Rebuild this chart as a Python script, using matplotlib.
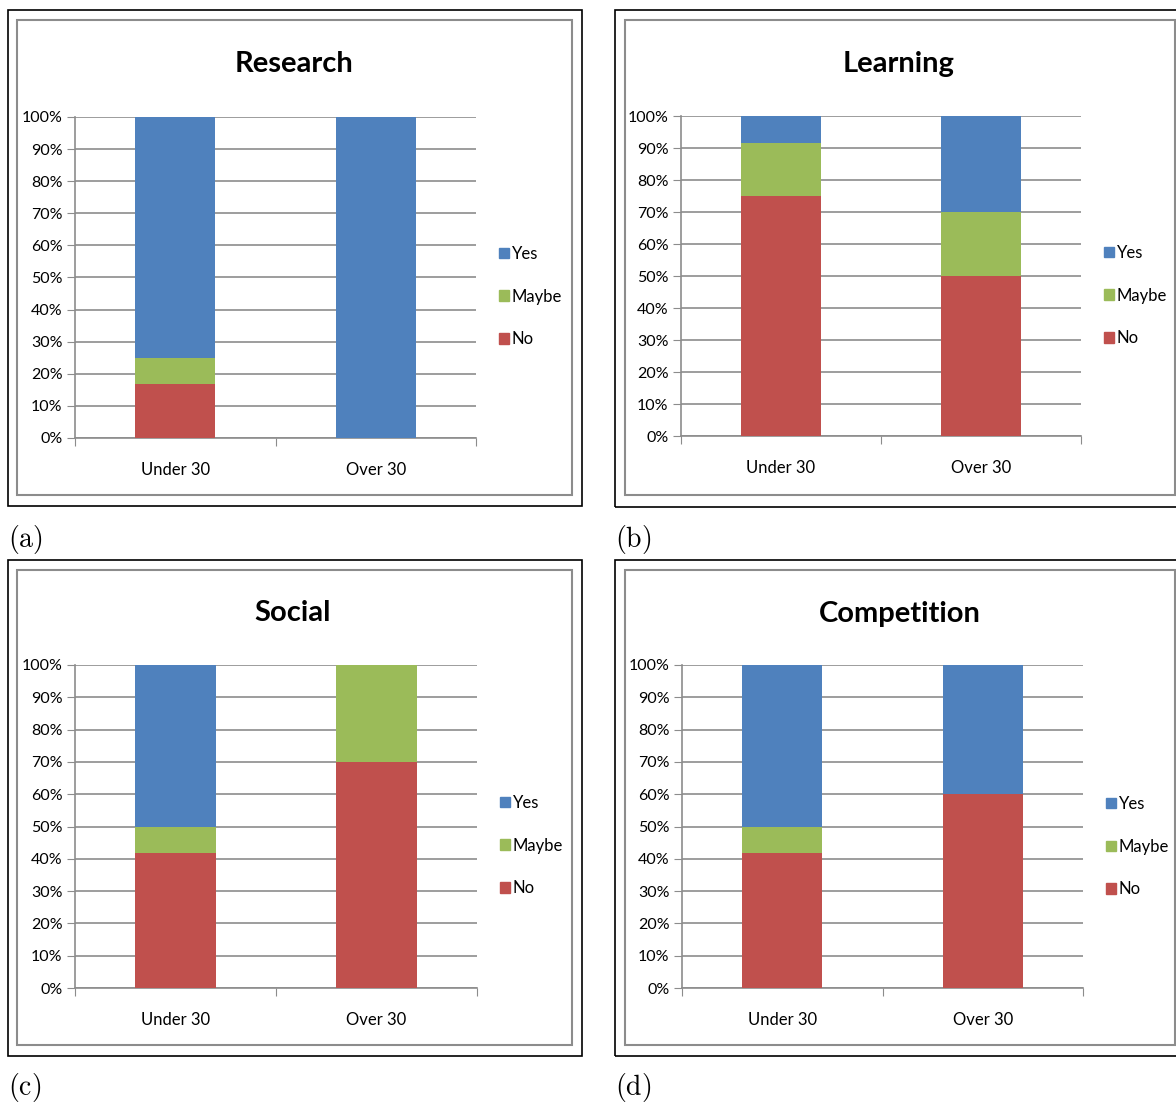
import matplotlib
matplotlib.use("Agg")
import matplotlib.pyplot as plt
from matplotlib.patches import Rectangle, Patch

plt.rcParams['font.family'] = ['Lato', 'DejaVu Sans']
plt.rcParams['mathtext.fontset'] = 'cm'

W, H = 1176, 1103

groups = ['Under 30', 'Over 30']
answers = ['Yes', 'Maybe', 'No']
colors = {'Yes': '#4F81BD', 'Maybe': '#9BBB59', 'No': '#C0504D'}
yticks = [0, 10, 20, 30, 40, 50, 60, 70, 80, 90, 100]

# percentages per answer, one value per age group
research_no = [16.7, 0]
research_maybe = [8.3, 0]
research_yes = [75.0, 100]

learning_no = [75.0, 50]
learning_maybe = [16.7, 20]
learning_yes = [8.3, 30]

social_no = [41.7, 70]
social_maybe = [8.3, 30]
social_yes = [50.0, 0]

competition_no = [41.7, 60]
competition_maybe = [8.3, 0]
competition_yes = [50.0, 40]

panels = [
    ('Research', '(a)', research_no, research_maybe, research_yes),
    ('Learning', '(b)', learning_no, learning_maybe, learning_yes),
    ('Social', '(c)', social_no, social_maybe, social_yes),
    ('Competition', '(d)', competition_no, competition_maybe, competition_yes),
]

# pixel layout: outer box, inner box, plot area, title centre, legend top-left, caption
layout = [
    dict(outer=(8, 10, 582, 506), inner=(17, 20, 572, 495), plot=(75, 117, 476, 438),
         title=(294, 64), legend=(499, 252), caption=(8, 540)),
    dict(outer=(615, 10, 1190, 507), inner=(625, 20, 1175, 495), plot=(681, 116, 1081, 436),
         title=(899, 64), legend=(1104, 251), caption=(615, 540)),
    dict(outer=(8, 560, 582, 1056), inner=(17, 570, 572, 1045), plot=(75, 665, 477, 988),
         title=(293, 613), legend=(500, 801), caption=(8, 1088)),
    dict(outer=(615, 560, 1190, 1056), inner=(625, 570, 1175, 1045), plot=(682, 665, 1083, 988),
         title=(900, 614), legend=(1106, 802), caption=(615, 1088)),
]


def fx(x):
    return x / W


def fy(y):
    return 1 - y / H


def box(fig, x0, y0, x1, y1, color, lw):
    fig.patches.append(Rectangle((fx(x0), fy(y1)), fx(x1 - x0), (y1 - y0) / H,
                                 transform=fig.transFigure, fill=False,
                                 edgecolor=color, linewidth=lw, zorder=0))


fig = plt.figure(figsize=(W / 100, H / 100), dpi=100)

for (title, cap, no, maybe, yes), lay in zip(panels, layout):
    box(fig, *lay['outer'], '#000000', 1.2)
    box(fig, *lay['inner'], '#8C8C8C', 1.5)

    x0, y0, x1, y1 = lay['plot']
    ax = fig.add_axes([fx(x0), fy(y1), fx(x1 - x0), (y1 - y0) / H])
    pos = [0.5, 1.5]
    ax.bar(pos, no, width=0.4, color=colors['No'], zorder=3)
    ax.bar(pos, maybe, width=0.4, bottom=no, color=colors['Maybe'], zorder=3)
    base = [a + b for a, b in zip(no, maybe)]
    ax.bar(pos, yes, width=0.4, bottom=base, color=colors['Yes'], zorder=3)

    ax.set_xlim(0, 2)
    ax.set_ylim(0, 100)
    ax.set_yticks(yticks)
    ax.set_yticklabels([f'{t}%' for t in yticks], fontsize=11.5)
    ax.set_xticks([0, 1, 2])
    ax.set_xticklabels([])
    ax.set_xticks(pos, minor=True)
    ax.set_xticklabels(groups, minor=True, fontsize=12)
    ax.tick_params(axis='x', which='minor', length=0, pad=17)
    ax.tick_params(axis='x', which='major', length=6, color='#8C8C8C', direction='out')
    ax.tick_params(axis='y', length=6, color='#8C8C8C', pad=3)
    ax.grid(axis='y', color='#8C8C8C', linewidth=1.2, zorder=1)
    for s in ('top', 'right'):
        ax.spines[s].set_visible(False)
    for s in ('left', 'bottom'):
        ax.spines[s].set_color('#8C8C8C')
        ax.spines[s].set_linewidth(1.2)

    fig.text(fx(lay['title'][0]), fy(lay['title'][1]), title, fontsize=21,
             fontweight='bold', ha='center', va='center')

    handles = [Patch(color=colors[a], label=a) for a in answers]
    lx, ly = lay['legend']
    fig.legend(handles=handles, loc='upper left', frameon=False, fontsize=12,
               bbox_to_anchor=(fx(lx), fy(ly - 6)), borderaxespad=0, borderpad=0,
               handlelength=0.6, handleheight=0.6, handletextpad=0.15,
               labelspacing=1.6)

    fig.text(fx(lay['caption'][0]), fy(lay['caption'][1]), r'$\mathrm{' + cap + '}$',
             fontsize=20, ha='left', va='center')

fig.savefig('out.png', dpi=100)
